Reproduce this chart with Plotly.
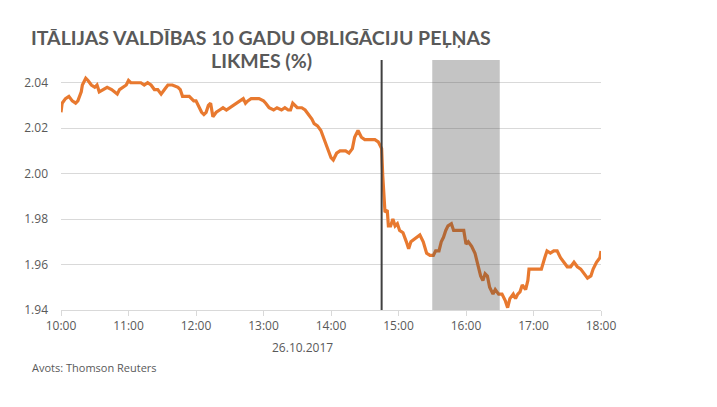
import plotly.graph_objects as go

DATE = "2017-10-26"
times = [
    "10:00", "10:01", "10:04", "10:07", "10:10", "10:13", "10:15", "10:18", "10:19", "10:22",
    "10:24", "10:27", "10:30", "10:32", "10:34", "10:38", "10:41", "10:45", "10:47", "10:50",
    "10:52", "10:55", "10:58", "11:00", "11:02", "11:05", "11:08", "11:11", "11:14", "11:17",
    "11:20", "11:23", "11:26", "11:29", "11:32", "11:35", "11:39", "11:44", "11:46", "11:48",
    "11:51", "11:54", "11:56", "11:58", "12:00", "12:02", "12:05", "12:07", "12:09", "12:11",
    "12:13", "12:15", "12:18", "12:21", "12:24", "12:27", "12:30", "12:33", "12:36", "12:39",
    "12:42", "12:44", "12:46", "12:49", "12:52", "12:56", "13:00", "13:02", "13:05", "13:09",
    "13:12", "13:16", "13:19", "13:22", "13:24", "13:26", "13:30", "13:34", "13:37", "13:40",
    "13:43", "13:45", "13:48", "13:51", "13:54", "13:57", "14:00", "14:02", "14:05", "14:08",
    "14:13", "14:16", "14:19", "14:21", "14:24", "14:27", "14:30", "14:33", "14:36", "14:39",
    "14:42", "14:44", "14:45", "14:46", "14:47", "14:48", "14:50", "14:51", "14:53", "14:55",
    "14:57", "14:59", "15:01", "15:04", "15:07", "15:09", "15:11", "15:14", "15:17", "15:19",
    "15:22", "15:25", "15:28", "15:31", "15:33", "15:36", "15:38", "15:40", "15:42", "15:44",
    "15:47", "15:49", "15:52", "15:55", "15:58", "16:00", "16:02", "16:05", "16:08", "16:10",
    "16:13", "16:15", "16:17", "16:19", "16:21", "16:24", "16:26", "16:29", "16:32", "16:35",
    "16:37", "16:39", "16:42", "16:44", "16:46", "16:48", "16:50", "16:53", "16:55", "16:56",
    "16:58", "17:03", "17:07", "17:10", "17:12", "17:15", "17:18", "17:21", "17:24", "17:27",
    "17:30", "17:33", "17:36", "17:39", "17:42", "17:45", "17:48", "17:51", "17:53", "17:56",
    "17:59", "18:00",
]
yields = [
    2.027, 2.031, 2.033, 2.034, 2.032, 2.031, 2.032, 2.036, 2.039, 2.042,
    2.041, 2.039, 2.038, 2.039, 2.036, 2.037, 2.038, 2.037, 2.036, 2.035,
    2.037, 2.038, 2.039, 2.041, 2.040, 2.040, 2.040, 2.040, 2.039, 2.040,
    2.039, 2.037, 2.037, 2.035, 2.037, 2.039, 2.039, 2.038, 2.037, 2.034,
    2.034, 2.034, 2.033, 2.032, 2.032, 2.030, 2.027, 2.026, 2.027, 2.030,
    2.031, 2.025, 2.027, 2.028, 2.029, 2.028, 2.029, 2.030, 2.031, 2.032,
    2.033, 2.031, 2.032, 2.033, 2.033, 2.033, 2.032, 2.031, 2.029, 2.028,
    2.029, 2.028, 2.029, 2.028, 2.028, 2.031, 2.029, 2.029, 2.028, 2.026,
    2.024, 2.022, 2.021, 2.019, 2.015, 2.011, 2.007, 2.006, 2.009, 2.010,
    2.010, 2.009, 2.011, 2.016, 2.019, 2.016, 2.015, 2.015, 2.015, 2.015,
    2.014, 2.012, 2.011, 1.999, 1.988, 1.983, 1.984, 1.977, 1.977, 1.980,
    1.977, 1.978, 1.975, 1.974, 1.970, 1.967, 1.970, 1.971, 1.972, 1.973,
    1.970, 1.965, 1.964, 1.964, 1.966, 1.966, 1.970, 1.972, 1.975, 1.977,
    1.978, 1.975, 1.975, 1.975, 1.975, 1.969, 1.970, 1.968, 1.965, 1.961,
    1.955, 1.953, 1.956, 1.955, 1.950, 1.947, 1.949, 1.947, 1.947, 1.944,
    1.941, 1.945, 1.947, 1.945, 1.947, 1.948, 1.951, 1.949, 1.953, 1.958,
    1.958, 1.958, 1.958, 1.963, 1.966, 1.965, 1.966, 1.966, 1.963, 1.961,
    1.959, 1.959, 1.961, 1.959, 1.958, 1.956, 1.954, 1.955, 1.958, 1.961,
    1.963, 1.966,
]
tick_times = ["10:00", "11:00", "12:00", "13:00", "14:00", "15:00", "16:00", "17:00", "18:00"]
y_ticks = [1.94, 1.96, 1.98, 2.00, 2.02, 2.04]
event_time = "14:45"
shade_start, shade_end = "15:30", "16:30"
title_lines = ["ITĀLIJAS VALDĪBAS 10 GADU OBLIGĀCIJU PEĻŅAS", "LIKMES (%)"]
date_label = "26.10.2017"
source_text = "Avots: Thomson Reuters"

def ts(t):
    return f"{DATE} {t}"

GRAY = "#595959"
GRID = "#D9D9D9"

fig = go.Figure()
fig.add_trace(go.Scatter(
    x=[ts(t) for t in times], y=yields, mode="lines",
    line=dict(color="#E8792F", width=3.2), hoverinfo="skip", showlegend=False,
))

fig.add_shape(type="rect", xref="x", yref="paper",
              x0=ts(shade_start), x1=ts(shade_end), y0=0, y1=1,
              fillcolor="rgba(70,70,70,0.32)", line=dict(width=0), layer="above")
fig.add_shape(type="line", xref="x", yref="paper",
              x0=ts(event_time), x1=ts(event_time), y0=0, y1=1,
              line=dict(color="#404040", width=2), layer="above")

# page body has an 8px default margin, so the figure is offset by 8px
fig.update_layout(
    width=709, height=399,
    margin=dict(l=53, r=116, t=52, b=97),
    paper_bgcolor="white", plot_bgcolor="white",
    font=dict(family="Open Sans", size=12, color=GRAY),
    xaxis=dict(
        range=[ts("10:00"), ts("18:00")], automargin=False,
        tickvals=[ts(t) for t in tick_times], ticktext=tick_times,
        showgrid=False, showline=True, linecolor=GRID, linewidth=1,
        ticks="outside", ticklen=5, tickcolor=GRID,
        tickfont=dict(family="Open Sans", size=12, color=GRAY),
        zeroline=False,
    ),
    yaxis=dict(
        range=[1.94, 2.05], automargin=False,
        tickvals=y_ticks, ticktext=[f"{v:.2f}" for v in y_ticks],
        showgrid=True, gridcolor=GRID, gridwidth=1,
        showline=False, zeroline=False, ticks="",
        ticklabelstandoff=12,
        tickfont=dict(family="Open Sans", size=12, color=GRAY),
    ),
)

for line_text, shift in zip(title_lines, [23, -0.5]):
    fig.add_annotation(text=line_text, xref="paper", yref="paper",
                       x=(261 - 61) / 540, y=1, yshift=shift, xanchor="center", yanchor="middle",
                       showarrow=False, align="center",
                       font=dict(family="Lato", size=19.5, color=GRAY, weight="bold"))
fig.add_annotation(text=date_label, xref="paper", yref="paper",
                   x=(302 - 61) / 540, y=0, yshift=-27, xanchor="center", yanchor="top",
                   showarrow=False, font=dict(family="Open Sans", size=12, color=GRAY))
fig.add_annotation(text=source_text, xref="paper", yref="paper",
                   x=(30 - 61) / 540, y=0, yshift=-48, xanchor="left", yanchor="top",
                   showarrow=False, font=dict(family="Open Sans", size=11, color=GRAY))

fig.write_html("out.html")
